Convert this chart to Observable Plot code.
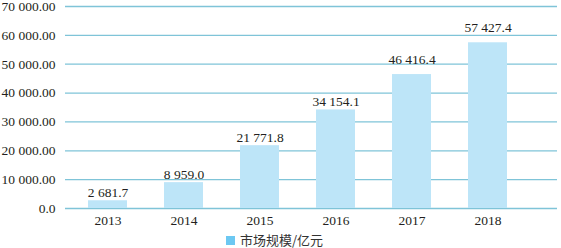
<!DOCTYPE html>
<html>
<head>
<meta charset="utf-8">
<script src="https://cdn.jsdelivr.net/npm/d3@7"></script>
<script src="https://cdn.jsdelivr.net/npm/@observablehq/plot@0.6"></script>
<style>
  html, body { margin: 0; padding: 0; background: #fff; }
  #chart { width: 561px; height: 248px; position: relative; overflow: hidden; }
  #chart svg text { font-family: "Liberation Serif", "Times New Roman", serif !important; }
  .legend { position: absolute; left: 226px; top: 232px; display: flex; align-items: center;
    font-family: "Noto Sans CJK SC", sans-serif; font-size: 13px; color: #333; line-height: 16px; }
  .legend .sw { width: 9px; height: 9px; background: #6cc8f2; margin-right: 5px; }
</style>
</head>
<body>
<div id="chart"></div>
<script>
const years = ["2013", "2014", "2015", "2016", "2017", "2018"];
const marketSize = [2681.7, 8959.0, 21771.8, 34154.1, 46416.4, 57427.4];
const valueLabels = ["2 681.7", "8 959.0", "21 771.8", "34 154.1", "46 416.4", "57 427.4"];
const yTicks = [0, 10000, 20000, 30000, 40000, 50000, 60000, 70000];
const yTickLabels = ["0.0", "10 000.00", "20 000.00", "30 000.00", "40 000.00", "50 000.00", "60 000.00", "70 000.00"];
const seriesName = "市场规模/亿元";

const data = years.map((y, i) => ({year: y, value: marketSize[i], label: valueLabels[i]}));
const font = "Liberation Serif";
const fs = 13.5;
const early = data.slice(0, 4);
const late = data.slice(4);

const plot = Plot.plot({
  width: 561,
  height: 230,
  marginLeft: 65,
  marginRight: 4,
  marginTop: 6,
  marginBottom: 22,
  style: {fontFamily: font, fontSize: fs + "px", color: "#231f20", background: "#fff"},
  x: {domain: years, range: [66.6, 527.4], paddingInner: 0.49, paddingOuter: 0.245},
  y: {domain: [0, 70000]},
  marks: [
    Plot.ruleY(yTicks, {stroke: "#7fc4d8", strokeWidth: 1.3}),
    Plot.barY(data, {x: "year", y: "value", fill: "#bde5f8"}),
    Plot.text(early, {x: "year", y: "value", text: "label", lineAnchor: "bottom", dy: -4, fontSize: fs, fill: "#231f20", fontFamily: font}),
    Plot.text(late, {x: "year", y: "value", text: "label", lineAnchor: "bottom", dy: -11, fontSize: fs, fill: "#231f20", fontFamily: font}),
    Plot.axisY({ticks: yTicks, tickFormat: d => yTickLabels[yTicks.indexOf(d)], tickSize: 0, tickPadding: 10, fontSize: fs, fontFamily: font, label: null}),
    Plot.axisX({tickSize: 0, tickPadding: 7, fontSize: fs, fontFamily: font, label: null})
  ]
});
const chart = document.getElementById("chart");
chart.appendChild(plot);
const legend = document.createElement("div");
legend.className = "legend";
legend.innerHTML = `<span class="sw"></span><span>${seriesName}</span>`;
chart.appendChild(legend);
</script>
</body>
</html>
